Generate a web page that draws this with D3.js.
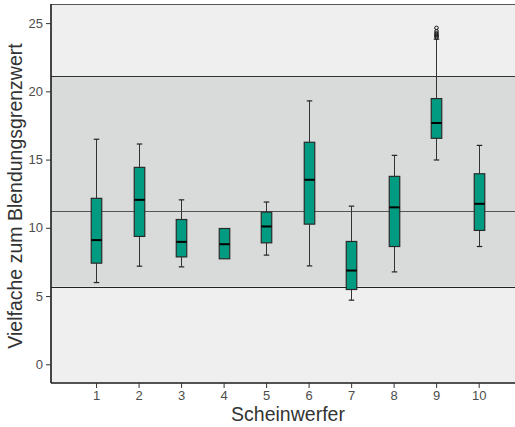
<!DOCTYPE html>
<html><head><meta charset="utf-8">
<script src="https://cdn.jsdelivr.net/npm/d3@7"></script>
<style>html,body{margin:0;padding:0;background:#fff;}svg{display:block;}</style>
</head><body>
<svg id="c" width="515" height="427"></svg>
<script>
const categories = ["1","2","3","4","5","6","7","8","9","10"];
const whiskerLow  = [5.99, 7.19, 7.14, 7.73, 8.00, 7.21, 4.70, 6.77, 14.97, 8.63];
const q1          = [7.41, 9.37, 7.87, 7.73, 8.90, 10.27, 5.48, 8.63, 16.56, 9.81];
const median      = [9.10, 12.05, 8.97, 8.80, 10.10, 13.52, 6.87, 11.50, 17.68, 11.76];
const q3          = [12.16, 14.43, 10.61, 9.95, 11.15, 16.27, 9.00, 13.77, 19.47, 13.96];
const whiskerHigh = [16.49, 16.14, 12.05, 9.95, 11.89, 19.30, 11.59, 15.31, 23.82, 16.04];
const outliers9   = [23.95, 24.05, 24.15, 24.25, 24.4, 24.65];
const yTicks = [0, 5, 10, 15, 20, 25];
const bandLow = 5.70, bandMid = 11.22, bandHigh = 21.13;
const xTitle = "Scheinwerfer";
const yTitle = "Vielfache zum Blendungsgrenzwert";

(function(){
const svg = d3.select("#c");
const pL = 51, pR = 525, pT = 4, pB = 383;
const x = d3.scaleLinear().domain([-0.06, 11.09]).range([pL, pR]);
const y = d3.scaleLinear().domain([-1.37, 26.4]).range([pB, pT]);

const g = svg.append("g");
g.append("rect").attr("x", pL).attr("y", pT).attr("width", pR-pL).attr("height", pB-pT).attr("fill", "#efefef");
g.append("rect").attr("x", pL).attr("y", y(bandHigh)).attr("width", pR-pL)
  .attr("height", y(bandLow)-y(bandHigh)).attr("fill", "#d9dada");
[[bandHigh,"#333",1.2],[bandMid,"#555",1],[bandLow,"#222",1.2]].forEach(([v,c,w])=>{
  g.append("line").attr("x1", pL).attr("x2", pR).attr("y1", Math.round(y(v))+0.5).attr("y2", Math.round(y(v))+0.5)
   .attr("stroke", c).attr("stroke-width", w);
});
g.append("line").attr("x1", pL).attr("x2", pR).attr("y1", pT+0.5).attr("y2", pT+0.5).attr("stroke","#555").attr("stroke-width",1.2);

const yAxis = d3.axisLeft(y).tickValues(yTicks).tickSize(5).tickPadding(3);
const ya = svg.append("g").attr("transform", `translate(${pL},0)`).call(yAxis);
const xAxis = d3.axisBottom(x).tickValues(categories.map(Number)).tickFormat((d,i)=>categories[i]).tickSize(5).tickPadding(3);
const xa = svg.append("g").attr("transform", `translate(0,${pB})`).call(xAxis);
[ya, xa].forEach(a=>{
  a.select(".domain").attr("stroke","#1a1a1a").attr("stroke-width",1.6);
  a.selectAll(".tick line").attr("stroke","#333").attr("stroke-width",1);
  a.selectAll(".tick text").attr("fill","#4d4d4d").style("font-family","Liberation Sans, Arial, sans-serif").style("font-size","13px");
});
ya.select(".domain").attr("d", `M0,${pT}V${pB}`);
xa.select(".domain").attr("d", `M${pL},0H${pR}`);

const bw = 10.5, cw = 5.5;
const boxes = svg.append("g");
categories.forEach((c,i)=>{
  const cx = Math.round(x(+c)) + 0.5;
  const bg = boxes.append("g");
  bg.append("line").attr("x1",cx).attr("x2",cx).attr("y1",y(whiskerHigh[i])).attr("y2",y(q3[i])).attr("stroke","#333").attr("stroke-width",1);
  bg.append("line").attr("x1",cx).attr("x2",cx).attr("y1",y(q1[i])).attr("y2",y(whiskerLow[i])).attr("stroke","#333").attr("stroke-width",1);
  if (whiskerHigh[i] > q3[i]) bg.append("line").attr("x1",cx-cw/2).attr("x2",cx+cw/2).attr("y1",y(whiskerHigh[i])).attr("y2",y(whiskerHigh[i])).attr("stroke","#222").attr("stroke-width",1.2);
  if (whiskerLow[i] < q1[i]) bg.append("line").attr("x1",cx-cw/2).attr("x2",cx+cw/2).attr("y1",y(whiskerLow[i])).attr("y2",y(whiskerLow[i])).attr("stroke","#222").attr("stroke-width",1.2);
  bg.append("rect").attr("x",cx-bw/2).attr("y",y(q3[i])).attr("width",bw).attr("height",y(q1[i])-y(q3[i]))
    .attr("fill","#009b80").attr("stroke","#2a2a2a").attr("stroke-width",1.2);
  bg.append("line").attr("x1",cx-bw/2).attr("x2",cx+bw/2).attr("y1",y(median[i])).attr("y2",y(median[i])).attr("stroke","#000").attr("stroke-width",2);
});
boxes.selectAll("circle.o").data(outliers9).join("circle").attr("class","o")
  .attr("cx", Math.round(x(9))+0.5).attr("cy", d=>y(d)).attr("r",1.8)
  .attr("fill","none").attr("stroke","#111").attr("stroke-width",1);

svg.append("text").attr("x", 288).attr("y", 421).attr("text-anchor","middle")
  .attr("fill","#333").style("font-family","Liberation Sans, Arial, sans-serif").style("font-size","19.5px").text(xTitle);
svg.append("text").attr("transform","translate(22,196) rotate(-90)").attr("text-anchor","middle")
  .attr("fill","#333").style("font-family","Liberation Sans, Arial, sans-serif").style("font-size","19.5px").text(yTitle);
})();
</script>
</body></html>
